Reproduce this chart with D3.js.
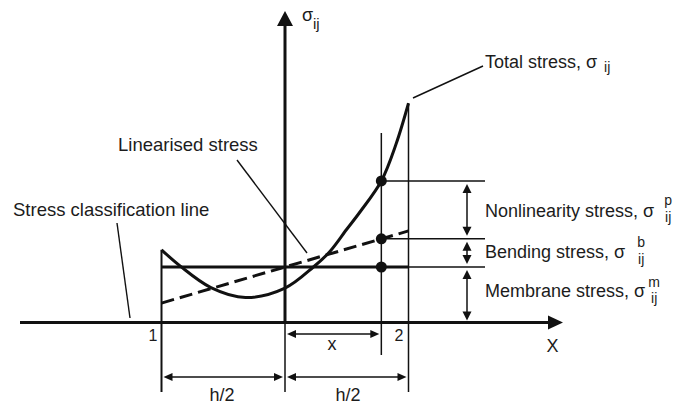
<!DOCTYPE html>
<html><head><meta charset="utf-8">
<script src="https://cdn.jsdelivr.net/npm/d3@7"></script>
<style>
html,body{margin:0;padding:0;background:#fff;}
svg{display:block;}
text{font-family:"Liberation Sans",Arial,Helvetica,sans-serif;fill:#1c1c1c;}
</style></head><body>
<svg id="chart" width="683" height="405"></svg>
<script>
// ---- data (normalised: x = position through wall, -1 = point 1, +1 = point 2; stress in membrane units)
const positions   = [-1, -0.85, -0.6, -0.32, 0, 0.23, 0.36, 0.5, 0.61, 0.78, 0.9, 1];
const totalStress = [1.31, 1.02, 0.63, 0.45, 0.62, 1.0, 1.27, 1.68, 2.0, 2.55, 3.22, 3.95];
const linearPositions  = [-1, 1];
const linearisedStress = [0.35, 1.65];
const membraneStress = 1.0;
const sectionX = 0.78;
const componentNames   = ["Nonlinearity stress, σ", "Bending stress, σ", "Membrane stress, σ"];
const componentSymbols = ["p", "b", "m"];
const stationLabels    = ["1", "2"];
const dimensionLabels  = ["x", "h/2", "h/2"];
const calloutLabels    = ["Total stress, σ", "Linearised stress", "Stress classification line"];
const axisLabels       = ["σ", "X"];
const subscript = "ij";

// ---- scales
const svg = d3.select("#chart");
const x = d3.scaleLinear().domain([-1, 1]).range([161.5, 408.5]);
const y = d3.scaleLinear().domain([0, 1]).range([322.5, 267]);
const linearAt = d3.scaleLinear().domain(linearPositions).range(linearisedStress);

const X0 = x(0), Y0 = y(0);
const ink = "#111";

function seg(x1, y1, x2, y2, w) {
  return svg.append("line").attr("x1", x1).attr("y1", y1).attr("x2", x2).attr("y2", y2)
    .attr("stroke", ink).attr("stroke-width", w);
}
function head(tx, ty, dx, dy, len, hw) {
  const bx = tx - dx * len, by = ty - dy * len;
  const px = -dy * hw, py = dx * hw;
  svg.append("path")
    .attr("d", `M${tx},${ty}L${bx + px},${by + py}L${bx - px},${by - py}Z`)
    .attr("fill", ink);
}
function hArrow(x1, x2, yy) {
  seg(x1 + 4, yy, x2 - 4, yy, 1.5);
  head(x1, yy, -1, 0, 9, 4);
  head(x2, yy, 1, 0, 9, 4);
}
function vArrow(xx, y1, y2) {
  seg(xx, y1 + 4, xx, y2 - 4, 1.5);
  head(xx, y1, 0, -1, 9, 4.5);
  head(xx, y2, 0, 1, 9, 4.5);
}

const sectionTotal = totalStress[positions.indexOf(sectionX)];
const sectionLinear = linearAt(sectionX);
const extEnd = 485, dimX = 467;

// ---- thin construction lines
seg(X0, Y0, X0, 392, 1.5);
seg(x(-1), y(totalStress[0]), x(-1), 392, 2);
seg(x(1), y(totalStress[totalStress.length - 1]), x(1), 392, 1.5);
seg(x(sectionX), 133, x(sectionX), 355, 1.5);
seg(x(1), y(membraneStress), extEnd, y(membraneStress), 1.5);
seg(x(sectionX), y(sectionLinear), extEnd, y(sectionLinear), 1.5);
seg(x(sectionX), y(sectionTotal), extEnd, y(sectionTotal), 1.5);

// ---- axes
seg(20, Y0, 550, Y0, 3);
head(563, Y0, 1, 0, 15, 7);
seg(X0, Y0, X0, 24, 3);
head(X0, 11, 0, -1, 15, 8);

// ---- membrane (thick)
seg(x(-1), y(membraneStress), x(1), y(membraneStress), 3);

// ---- linearised stress (dashed)
svg.append("path")
  .datum(linearPositions.map((p, i) => [p, linearisedStress[i]]))
  .attr("d", d3.line().x(d => x(d[0])).y(d => y(d[1])))
  .attr("fill", "none").attr("stroke", ink).attr("stroke-width", 3)
  .attr("stroke-dasharray", "13,6");

// ---- total stress curve
svg.append("path")
  .datum(positions.map((p, i) => [p, totalStress[i]]))
  .attr("d", d3.line().x(d => x(d[0])).y(d => y(d[1])).curve(d3.curveCatmullRom.alpha(0.5)))
  .attr("fill", "none").attr("stroke", ink).attr("stroke-width", 3);

// ---- dots
svg.selectAll("circle.pt").data([sectionTotal, sectionLinear, membraneStress]).join("circle")
  .attr("cx", x(sectionX)).attr("cy", d => y(d)).attr("r", 5.5).attr("fill", ink);

// ---- component arrows
vArrow(dimX, y(sectionTotal) + 3, y(sectionLinear) - 3);
vArrow(dimX, y(sectionLinear) + 3, y(membraneStress) - 3);
vArrow(dimX, y(membraneStress) + 3, Y0 - 2);

// ---- dimension arrows
hArrow(X0 + 2, x(sectionX) - 2, 334);
hArrow(x(-1) + 2, X0 - 2, 377);
hArrow(X0 + 2, x(1) - 2, 377);

// ---- leader lines
seg(413, 98, 483, 66, 1.4);
seg(237, 160, 307, 253, 1.4);
seg(117, 223, 130, 318, 1.4);

// ---- texts
function txt(s, tx, ty, size, anchor) {
  return svg.append("text").attr("x", tx).attr("y", ty).attr("font-size", size)
    .attr("text-anchor", anchor || "start").text(s);
}
function sigmaLabel(s, tx, ty, subDx, subY, sup, supY) {
  const t = txt(s, tx, ty, 18);
  const cx = tx + t.node().getComputedTextLength() + subDx;
  txt(subscript, cx, subY, 14, "middle");
  if (sup) txt(sup, cx, supY, 14, "middle");
}

// axis labels
txt(axisLabels[0], 302, 21, 18);
txt(subscript, 313, 29, 15);
txt(axisLabels[1], 552.5, 352, 18, "middle");

// callouts
sigmaLabel(calloutLabels[0], 485, 68, 10, 72);
txt(calloutLabels[1], 118, 151, 18.5);
txt(calloutLabels[2], 13, 216, 18.5);

// component labels
sigmaLabel(componentNames[0], 485, 217, 14, 222, componentSymbols[0], 205);
sigmaLabel(componentNames[1], 485, 258, 16, 264, componentSymbols[1], 247);
sigmaLabel(componentNames[2], 485, 297, 9, 303, componentSymbols[2], 287);

// stations & dimensions
txt(stationLabels[0], 153, 341, 16, "middle");
txt(stationLabels[1], 399, 341, 16, "middle");
txt(dimensionLabels[0], 332, 350, 18, "middle");
txt(dimensionLabels[1], 222, 401, 18, "middle");
txt(dimensionLabels[2], 348, 401, 18, "middle");
</script>
</body></html>
